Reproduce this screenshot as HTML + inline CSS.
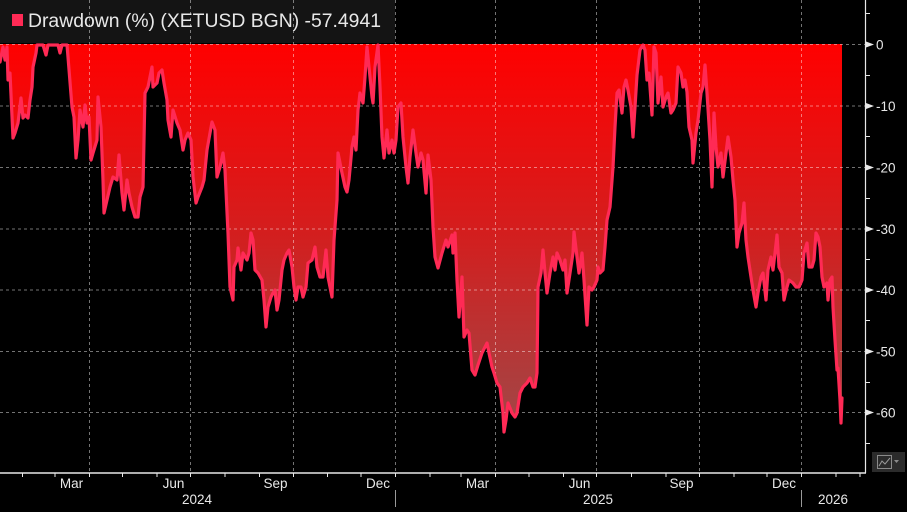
<!DOCTYPE html>
<html><head><meta charset="utf-8"><style>
html,body{margin:0;padding:0;background:#000;}
svg{display:block;}
text{font-family:"Liberation Sans",Arial,sans-serif;fill:#e8e8e8;}
</style></head><body>
<svg width="907" height="512" viewBox="0 0 907 512" xmlns="http://www.w3.org/2000/svg">
<defs>
<linearGradient id="g" x1="0" y1="44" x2="0" y2="432" gradientUnits="userSpaceOnUse">
<stop offset="0" stop-color="#ff0000"/>
<stop offset="0.5" stop-color="#d21f1f"/>
<stop offset="1" stop-color="#a04848"/>
</linearGradient>
</defs>
<rect width="907" height="512" fill="#000"/>
<rect x="0" y="0" width="395" height="43" fill="#141414"/>
<rect x="12" y="14" width="11" height="12" fill="#ff2a55"/>
<text x="28" y="27" font-size="19" textLength="353" lengthAdjust="spacingAndGlyphs">Drawdown (%) (XETUSD BGN) -57.4941</text>

<polygon fill="url(#g)" points="0,44 0,62 3,47 5,60 7,47 8,80 10,73 13,138 15,133 18,123 21,98 23,118 25,115 28,118 30,100 32,87 33,67 36,53 37,45 43,45 46,55 48,45 58,45 60,53 62,45 67,45 68,57 72,107 74,117 76,158 78,140 80,110 83,127 85,105 87,123 89,117 91,160 93,153 97,140 98,97 101,127 103,180 104,213 107,200 110,187 113,177 117,180 119,155 122,193 124,210 127,180 129,193 132,207 135,217 138,217 140,197 143,187 145,93 148,87 152,67 153,87 157,83 159,73 162,70 164,83 167,100 168,120 171,137 173,110 177,123 180,130 183,150 185,140 188,133 191,140 193,177 196,203 198,197 202,187 204,180 207,150 210,133 212,122 215,130 217,177 220,167 223,153 225,170 228,233 230,287 233,300 234,267 237,260 238,248 241,270 243,253 247,260 249,253 251,233 253,240 255,270 258,273 262,280 264,300 266,327 268,307 271,297 273,293 275,290 277,310 279,300 282,270 284,260 287,253 289,250 292,267 294,287 296,300 298,287 301,287 303,297 306,287 308,263 312,260 315,247 317,267 320,277 323,277 326,250 328,277 332,297 334,240 337,200 338,153 342,173 345,187 347,192 349,180 352,147 354,137 356,150 358,110 360,93 363,103 365,77 367,47 369,67 372,97 373,103 375,67 378,45 380,87 382,137 384,158 387,130 389,153 392,140 394,153 396,140 398,107 401,103 403,137 406,167 408,183 410,157 413,130 416,153 418,167 421,153 423,160 426,193 428,155 431,180 433,227 435,257 438,268 442,253 446,240 448,247 452,235 453,253 455,233 457,280 459,317 462,277 464,337 467,330 469,333 472,370 475,375 478,365 482,353 485,347 487,343 489,353 492,367 494,373 497,383 500,387 503,413 504,432 506,420 508,403 512,413 515,417 517,413 520,393 523,387 527,383 530,378 533,387 535,387 537,373 538,287 541,273 543,250 545,273 547,293 550,273 553,257 555,270 557,253 560,260 563,270 565,260 567,293 570,273 573,253 574,232 577,257 579,273 582,253 584,280 587,325 589,287 592,290 594,287 597,280 598,267 600,273 603,270 605,247 607,220 610,207 613,167 615,127 617,93 619,90 622,113 624,87 626,80 628,90 631,107 633,137 635,107 637,75 640,50 643,45 645,50 647,80 649,73 652,115 654,47 656,53 658,103 661,77 663,107 666,97 668,93 671,113 673,110 676,103 678,67 681,73 683,87 685,80 687,92 689,127 692,140 693,163 696,133 698,120 701,93 703,87 705,65 707,93 710,140 712,187 714,113 716,147 718,167 721,153 723,177 726,153 728,137 731,157 733,180 735,200 737,247 739,233 742,223 744,203 746,240 748,257 751,277 753,290 756,307 758,293 761,277 763,273 766,300 768,270 771,257 773,270 775,253 777,235 779,267 782,273 784,300 787,287 789,280 793,283 796,287 799,287 802,280 804,253 807,243 809,267 812,267 814,260 816,233 818,237 820,247 822,277 824,287 827,283 828,300 830,280 832,277 833,307 835,340 837,370 838,368 840,400 841,423 842,398 842,44"/>

<g stroke="#ffffff" stroke-opacity="0.45" stroke-width="1" stroke-dasharray="3,3" fill="none">
<line x1="0" y1="44.5" x2="865" y2="44.5"/>
<line x1="0" y1="106" x2="865" y2="106"/>
<line x1="0" y1="167.5" x2="865" y2="167.5"/>
<line x1="0" y1="229" x2="865" y2="229"/>
<line x1="0" y1="290" x2="865" y2="290"/>
<line x1="0" y1="351.5" x2="865" y2="351.5"/>
<line x1="0" y1="412.5" x2="865" y2="412.5"/>
<line x1="89.5" y1="0" x2="89.5" y2="472"/>
<line x1="190.5" y1="0" x2="190.5" y2="472"/>
<line x1="293.5" y1="0" x2="293.5" y2="472"/>
<line x1="395.5" y1="0" x2="395.5" y2="472"/>
<line x1="495.5" y1="0" x2="495.5" y2="472"/>
<line x1="596.5" y1="0" x2="596.5" y2="472"/>
<line x1="699.5" y1="0" x2="699.5" y2="472"/>
<line x1="801.5" y1="0" x2="801.5" y2="472"/>
</g>

<polyline fill="none" stroke="#ff2a55" stroke-width="3.2" stroke-linejoin="round" stroke-linecap="round" points="0,62 3,47 5,60 7,47 8,80 10,73 13,138 15,133 18,123 21,98 23,118 25,115 28,118 30,100 32,87 33,67 36,53 37,45 43,45 46,55 48,45 58,45 60,53 62,45 67,45 68,57 72,107 74,117 76,158 78,140 80,110 83,127 85,105 87,123 89,117 91,160 93,153 97,140 98,97 101,127 103,180 104,213 107,200 110,187 113,177 117,180 119,155 122,193 124,210 127,180 129,193 132,207 135,217 138,217 140,197 143,187 145,93 148,87 152,67 153,87 157,83 159,73 162,70 164,83 167,100 168,120 171,137 173,110 177,123 180,130 183,150 185,140 188,133 191,140 193,177 196,203 198,197 202,187 204,180 207,150 210,133 212,122 215,130 217,177 220,167 223,153 225,170 228,233 230,287 233,300 234,267 237,260 238,248 241,270 243,253 247,260 249,253 251,233 253,240 255,270 258,273 262,280 264,300 266,327 268,307 271,297 273,293 275,290 277,310 279,300 282,270 284,260 287,253 289,250 292,267 294,287 296,300 298,287 301,287 303,297 306,287 308,263 312,260 315,247 317,267 320,277 323,277 326,250 328,277 332,297 334,240 337,200 338,153 342,173 345,187 347,192 349,180 352,147 354,137 356,150 358,110 360,93 363,103 365,77 367,47 369,67 372,97 373,103 375,67 378,45 380,87 382,137 384,158 387,130 389,153 392,140 394,153 396,140 398,107 401,103 403,137 406,167 408,183 410,157 413,130 416,153 418,167 421,153 423,160 426,193 428,155 431,180 433,227 435,257 438,268 442,253 446,240 448,247 452,235 453,253 455,233 457,280 459,317 462,277 464,337 467,330 469,333 472,370 475,375 478,365 482,353 485,347 487,343 489,353 492,367 494,373 497,383 500,387 503,413 504,432 506,420 508,403 512,413 515,417 517,413 520,393 523,387 527,383 530,378 533,387 535,387 537,373 538,287 541,273 543,250 545,273 547,293 550,273 553,257 555,270 557,253 560,260 563,270 565,260 567,293 570,273 573,253 574,232 577,257 579,273 582,253 584,280 587,325 589,287 592,290 594,287 597,280 598,267 600,273 603,270 605,247 607,220 610,207 613,167 615,127 617,93 619,90 622,113 624,87 626,80 628,90 631,107 633,137 635,107 637,75 640,50 643,45 645,50 647,80 649,73 652,115 654,47 656,53 658,103 661,77 663,107 666,97 668,93 671,113 673,110 676,103 678,67 681,73 683,87 685,80 687,92 689,127 692,140 693,163 696,133 698,120 701,93 703,87 705,65 707,93 710,140 712,187 714,113 716,147 718,167 721,153 723,177 726,153 728,137 731,157 733,180 735,200 737,247 739,233 742,223 744,203 746,240 748,257 751,277 753,290 756,307 758,293 761,277 763,273 766,300 768,270 771,257 773,270 775,253 777,235 779,267 782,273 784,300 787,287 789,280 793,283 796,287 799,287 802,280 804,253 807,243 809,267 812,267 814,260 816,233 818,237 820,247 822,277 824,287 827,283 828,300 830,280 832,277 833,307 835,340 837,370 838,368 840,400 841,423 842,398"/>

<!-- right axis -->
<line x1="865.5" y1="0" x2="865.5" y2="473" stroke="#e8e8e8" stroke-width="1.2"/>
<g stroke="#e8e8e8" stroke-width="1">
<line x1="866" y1="13.5" x2="870" y2="13.5"/>
<line x1="866" y1="75.5" x2="870" y2="75.5"/>
<line x1="866" y1="136.5" x2="870" y2="136.5"/>
<line x1="866" y1="198.5" x2="870" y2="198.5"/>
<line x1="866" y1="259.5" x2="870" y2="259.5"/>
<line x1="866" y1="320.5" x2="870" y2="320.5"/>
<line x1="866" y1="382.5" x2="870" y2="382.5"/>
<line x1="866" y1="443.5" x2="870" y2="443.5"/>
</g>
<g fill="#e8e8e8">
<polygon points="866,41.5 874,44.5 866,47.5"/>
<polygon points="866,103 874,106 866,109"/>
<polygon points="866,164.5 874,167.5 866,170.5"/>
<polygon points="866,226 874,229 866,232"/>
<polygon points="866,287 874,290 866,293"/>
<polygon points="866,348.5 874,351.5 866,354.5"/>
<polygon points="866,409.5 874,412.5 866,415.5"/>
</g>
<g font-size="13.5">
<text x="876" y="49.5">0</text>
<text x="876" y="111">-10</text>
<text x="876" y="172.5">-20</text>
<text x="876" y="234">-30</text>
<text x="876" y="295">-40</text>
<text x="876" y="356.5">-50</text>
<text x="876" y="417.5">-60</text>
</g>

<!-- bottom axis -->
<line x1="0" y1="473" x2="866" y2="473" stroke="#e8e8e8" stroke-width="1.4"/>
<g stroke="#e8e8e8" stroke-width="1">
<line x1="22.5" y1="473" x2="22.5" y2="477"/>
<line x1="55" y1="473" x2="55" y2="477"/>
<line x1="89.5" y1="473" x2="89.5" y2="477"/>
<line x1="122.5" y1="473" x2="122.5" y2="477"/>
<line x1="157" y1="473" x2="157" y2="477"/>
<line x1="190.5" y1="473" x2="190.5" y2="477"/>
<line x1="225" y1="473" x2="225" y2="477"/>
<line x1="259.5" y1="473" x2="259.5" y2="477"/>
<line x1="293.5" y1="473" x2="293.5" y2="477"/>
<line x1="327.5" y1="473" x2="327.5" y2="477"/>
<line x1="361" y1="473" x2="361" y2="477"/>
<line x1="395.5" y1="473" x2="395.5" y2="477"/>
<line x1="430" y1="473" x2="430" y2="477"/>
<line x1="461" y1="473" x2="461" y2="477"/>
<line x1="495.5" y1="473" x2="495.5" y2="477"/>
<line x1="529" y1="473" x2="529" y2="477"/>
<line x1="563.5" y1="473" x2="563.5" y2="477"/>
<line x1="596.5" y1="473" x2="596.5" y2="477"/>
<line x1="631.5" y1="473" x2="631.5" y2="477"/>
<line x1="666" y1="473" x2="666" y2="477"/>
<line x1="699.5" y1="473" x2="699.5" y2="477"/>
<line x1="734" y1="473" x2="734" y2="477"/>
<line x1="767" y1="473" x2="767" y2="477"/>
<line x1="801.5" y1="473" x2="801.5" y2="477"/>
<line x1="836" y1="473" x2="836" y2="477"/>
<line x1="860" y1="473" x2="860" y2="477"/>
</g>
<g font-size="13.5" text-anchor="middle">
<text x="71.5" y="488">Mar</text>
<text x="173.5" y="488">Jun</text>
<text x="275.5" y="488">Sep</text>
<text x="378" y="488">Dec</text>
<text x="477.5" y="488">Mar</text>
<text x="579.5" y="488">Jun</text>
<text x="681.5" y="488">Sep</text>
<text x="784" y="488">Dec</text>
<text x="197" y="504">2024</text>
<text x="598" y="504">2025</text>
<text x="833" y="504">2026</text>
</g>
<line x1="395.5" y1="490" x2="395.5" y2="507" stroke="#9a9a9a" stroke-width="1"/>
<line x1="801.5" y1="490" x2="801.5" y2="507" stroke="#9a9a9a" stroke-width="1"/>

<!-- icon -->
<rect x="872" y="452" width="33" height="20" fill="#2b2b2b"/>
<rect x="877.5" y="455.5" width="14" height="13" fill="none" stroke="#8a8a8a" stroke-width="1"/>
<polyline points="879,466 882,461 885,464 890,458" fill="none" stroke="#9a9a9a" stroke-width="1"/>
<polygon points="894,460 899,460 896.5,463" fill="#8a8a8a"/>
</svg>
</body></html>
